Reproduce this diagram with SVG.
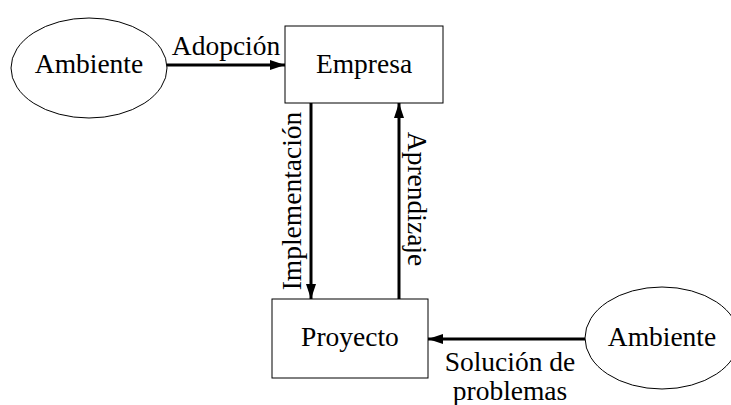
<svg xmlns="http://www.w3.org/2000/svg" width="731" height="405" viewBox="0 0 731 405">
<style>
.n{fill:#fff;stroke:#000;stroke-width:1}
.t{font-family:"Liberation Serif",serif;font-size:27.5px;fill:#000}
.c{fill:none;stroke:#000;stroke-width:3}
</style>
<defs>
<marker id="ah" viewBox="0 0 15 10" refX="15" refY="5" markerWidth="15" markerHeight="10" markerUnits="userSpaceOnUse" orient="auto">
<path d="M0,0 L15,5 L0,10 Z" fill="#000"/>
</marker>
</defs>
<rect width="731" height="405" fill="#fff"/>
<g id="connectors">
<line class="c" x1="167" y1="65" x2="285" y2="65" marker-end="url(#ah)"/>
<line class="c" x1="311" y1="103" x2="311" y2="299" marker-end="url(#ah)"/>
<line class="c" x1="399" y1="299" x2="399" y2="103" marker-end="url(#ah)"/>
<line class="c" x1="585" y1="339" x2="428" y2="339" marker-end="url(#ah)"/>
<text class="t" x="226" y="55" text-anchor="middle">Adopción</text>
<text class="t" transform="translate(301,201) rotate(-90)" text-anchor="middle">Implementación</text>
<text class="t" transform="translate(408,199) rotate(90)" text-anchor="middle">Aprendizaje</text>
<text class="t" x="510" y="371" text-anchor="middle">Solución de</text>
<text class="t" x="510" y="400" text-anchor="middle">problemas</text>
</g>
<g id="ambiente1">
<ellipse class="n" cx="89" cy="68" rx="78" ry="50"/>
<text class="t" x="89" y="73" text-anchor="middle">Ambiente</text>
</g>
<g id="empresa">
<rect class="n" x="285" y="26" width="158" height="77"/>
<text class="t" x="364" y="73" text-anchor="middle">Empresa</text>
</g>
<g id="proyecto">
<rect class="n" x="272" y="299" width="156" height="79"/>
<text class="t" x="350" y="346" text-anchor="middle">Proyecto</text>
</g>
<g id="ambiente2">
<ellipse class="n" cx="662" cy="338" rx="77" ry="51"/>
<text class="t" x="662" y="346" text-anchor="middle">Ambiente</text>
</g>
</svg>
